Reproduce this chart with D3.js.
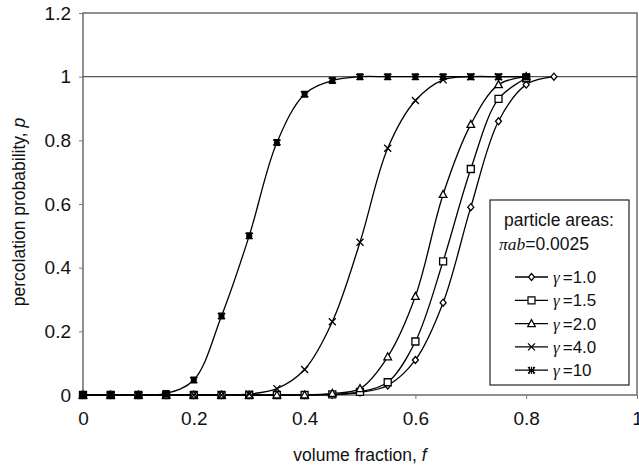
<!DOCTYPE html>
<html>
<head>
<meta charset="utf-8">
<script src="https://cdn.jsdelivr.net/npm/d3@7"></script>
<style>
  body { margin: 0; background: #fff; }
  text { font-family: "Liberation Sans", Arial, sans-serif; }
</style>
</head>
<body>
<div id="chart"></div>
<script>
// volume fraction steps
var fvals = [0, 0.05, 0.1, 0.15, 0.2, 0.25, 0.3, 0.35, 0.4, 0.45, 0.5, 0.55, 0.6, 0.65, 0.7, 0.75, 0.8, 0.85];

// percolation probability per aspect ratio
var g10 = [0, 0, 0, 0.005, 0.047, 0.248, 0.50, 0.793, 0.945, 0.988, 1, 1, 1, 1, 1, 1, 1];
var g40 = [0, 0, 0, 0, 0, 0, 0.003, 0.02, 0.08, 0.23, 0.48, 0.775, 0.925, 0.99, 1, 1, 1];
var g20 = [0, 0, 0, 0, 0, 0, 0, 0, 0, 0.005, 0.02, 0.12, 0.31, 0.63, 0.85, 0.975, 1];
var g15 = [0, 0, 0, 0, 0, 0, 0, 0, 0, 0.002, 0.01, 0.04, 0.168, 0.42, 0.71, 0.93, 0.995];
var g10b = [0, 0, 0, 0, 0, 0, 0, 0, 0, 0.001, 0.008, 0.03, 0.11, 0.29, 0.59, 0.86, 0.975, 1];

var seriesNames = ["=1.0", "=1.5", "=2.0", "=4.0", "=10"];
var xTicks = [0, 0.2, 0.4, 0.6, 0.8, 1];
var yTicks = [0, 0.2, 0.4, 0.6, 0.8, 1, 1.2];

var series = [
  { name: seriesNames[0], vals: g10b, mark: "diamond" },
  { name: seriesNames[1], vals: g15, mark: "square" },
  { name: seriesNames[2], vals: g20, mark: "triangle" },
  { name: seriesNames[3], vals: g40, mark: "cross" },
  { name: seriesNames[4], vals: g10, mark: "star" }
];

var W = 639, H = 472;
var L = 83, R = 637, T = 13, B = 395;

var svg = d3.select("#chart").append("svg")
  .attr("width", W).attr("height", H);

var x = d3.scaleLinear().domain([0, 1]).range([L, R]);
var y = d3.scaleLinear().domain([0, 1.2]).range([B, T]);

//= frame + line at p = 1
svg.append("line").attr("x1", L).attr("x2", R).attr("y1", y(1)).attr("y2", y(1))
  .attr("stroke", "#555").attr("stroke-width", 1.3);
svg.append("rect").attr("x", L).attr("y", T).attr("width", R - L).attr("height", B - T)
  .attr("fill", "none").attr("stroke", "#555").attr("stroke-width", 1.3);

// Axes
var xAxis = svg.append("g")
  .attr("transform", "translate(0," + B + ")")
  .call(d3.axisBottom(x).tickValues(xTicks).tickSize(4).tickPadding(13)
    .tickFormat(d3.format("")));
var yAxis = svg.append("g")
  .attr("transform", "translate(" + L + ",0)")
  .call(d3.axisLeft(y).tickValues(yTicks).tickSize(4).tickPadding(8)
    .tickFormat(d3.format("")));
[xAxis, yAxis].forEach(function(a) {
  a.select(".domain").remove();
  a.selectAll(".tick line").attr("stroke", "#777");
  a.selectAll(".tick text").attr("font-size", "19px").attr("fill", "#111")
    .attr("font-family", "Liberation Sans, Arial, sans-serif");
});

// axis titles
var xt = svg.append("text").attr("x", 360).attr("y", 461)
  .attr("text-anchor", "middle").attr("font-size", "17.5px").attr("fill", "#111");
xt.append("tspan").text("volume fraction, ");
xt.append("tspan").attr("font-style", "italic").text("f");

var yt = svg.append("text").attr("transform", "translate(25,212) rotate(-90)")
  .attr("text-anchor", "middle").attr("font-size", "17.5px").attr("fill", "#111");
yt.append("tspan").text("percolation probability, ");
yt.append("tspan").attr("font-style", "italic").text("p");

// markers
function markPath(kind) {
  if (kind === "diamond") return "M0,-3.5L3,0L0,3.5L-3,0Z";
  if (kind === "square") return "M-3.5,-3.5H3.5V3.5H-3.5Z";
  if (kind === "triangle") return "M0,-4L3.8,3H-3.8Z";
  if (kind === "cross") return "M-3.5,-3.5L3.5,3.5M3.5,-3.5L-3.5,3.5";
  return "M-3.5,-3L3.5,3M3.5,-3L-3.5,3M-2,-3.5V3.5M2,-3.5V3.5M0,-3.5V3.5";
}

var line = d3.line()
  .x(function(d, i) { return x(fvals[i]); })
  .y(function(d) { return y(d); })
  .curve(d3.curveCatmullRom.alpha(0.5));

series.forEach(function(s) {
  svg.append("path").datum(s.vals)
    .attr("d", line)
    .attr("fill", "none").attr("stroke", "#000").attr("stroke-width", 1.3);
});
series.forEach(function(s) {
  svg.append("g").selectAll("path").data(s.vals).join("path")
    .attr("transform", function(d, i) { return "translate(" + x(fvals[i]) + "," + y(d) + ")"; })
    .attr("d", markPath(s.mark))
    .attr("fill", s.mark === "cross" || s.mark === "star" ? "none" : "#fff")
    .attr("stroke", "#000").attr("stroke-width", s.mark === "star" ? 2 : 1.3);
});

// Legend
var lg = svg.append("g");
lg.append("rect").attr("x", 490).attr("y", 200).attr("width", 139).attr("height", 185)
  .attr("fill", "#fff").attr("stroke", "#222").attr("stroke-width", 1.2);
lg.append("text").attr("x", 559).attr("y", 226).attr("text-anchor", "middle")
  .attr("font-size", "17.5px").attr("fill", "#111").text("particle areas:");
var pt = lg.append("text").attr("x", 499).attr("y", 250)
  .attr("font-size", "17.5px").attr("fill", "#111");
pt.append("tspan").attr("font-family", "Liberation Serif, serif").attr("font-style", "italic").text("\u03c0ab");
pt.append("tspan").text("=0.0025");

series.forEach(function(s, i) {
  var ly = 277 + i * 23.3;
  lg.append("line").attr("x1", 515).attr("x2", 548).attr("y1", ly).attr("y2", ly)
    .attr("stroke", "#000").attr("stroke-width", 1.3);
  lg.append("path").attr("transform", "translate(531.5," + ly + ")")
    .attr("d", markPath(s.mark))
    .attr("fill", s.mark === "cross" || s.mark === "star" ? "none" : "#fff")
    .attr("stroke", "#000").attr("stroke-width", 1.2);
  var t = lg.append("text").attr("x", 553).attr("y", ly + 6)
    .attr("font-size", "17px").attr("fill", "#111");
  t.append("tspan").attr("font-family", "Liberation Serif, serif").attr("font-style", "italic").text("\u03b3");
  t.append("tspan").attr("dx", 3).text(s.name);
});
</script>
</body>
</html>
